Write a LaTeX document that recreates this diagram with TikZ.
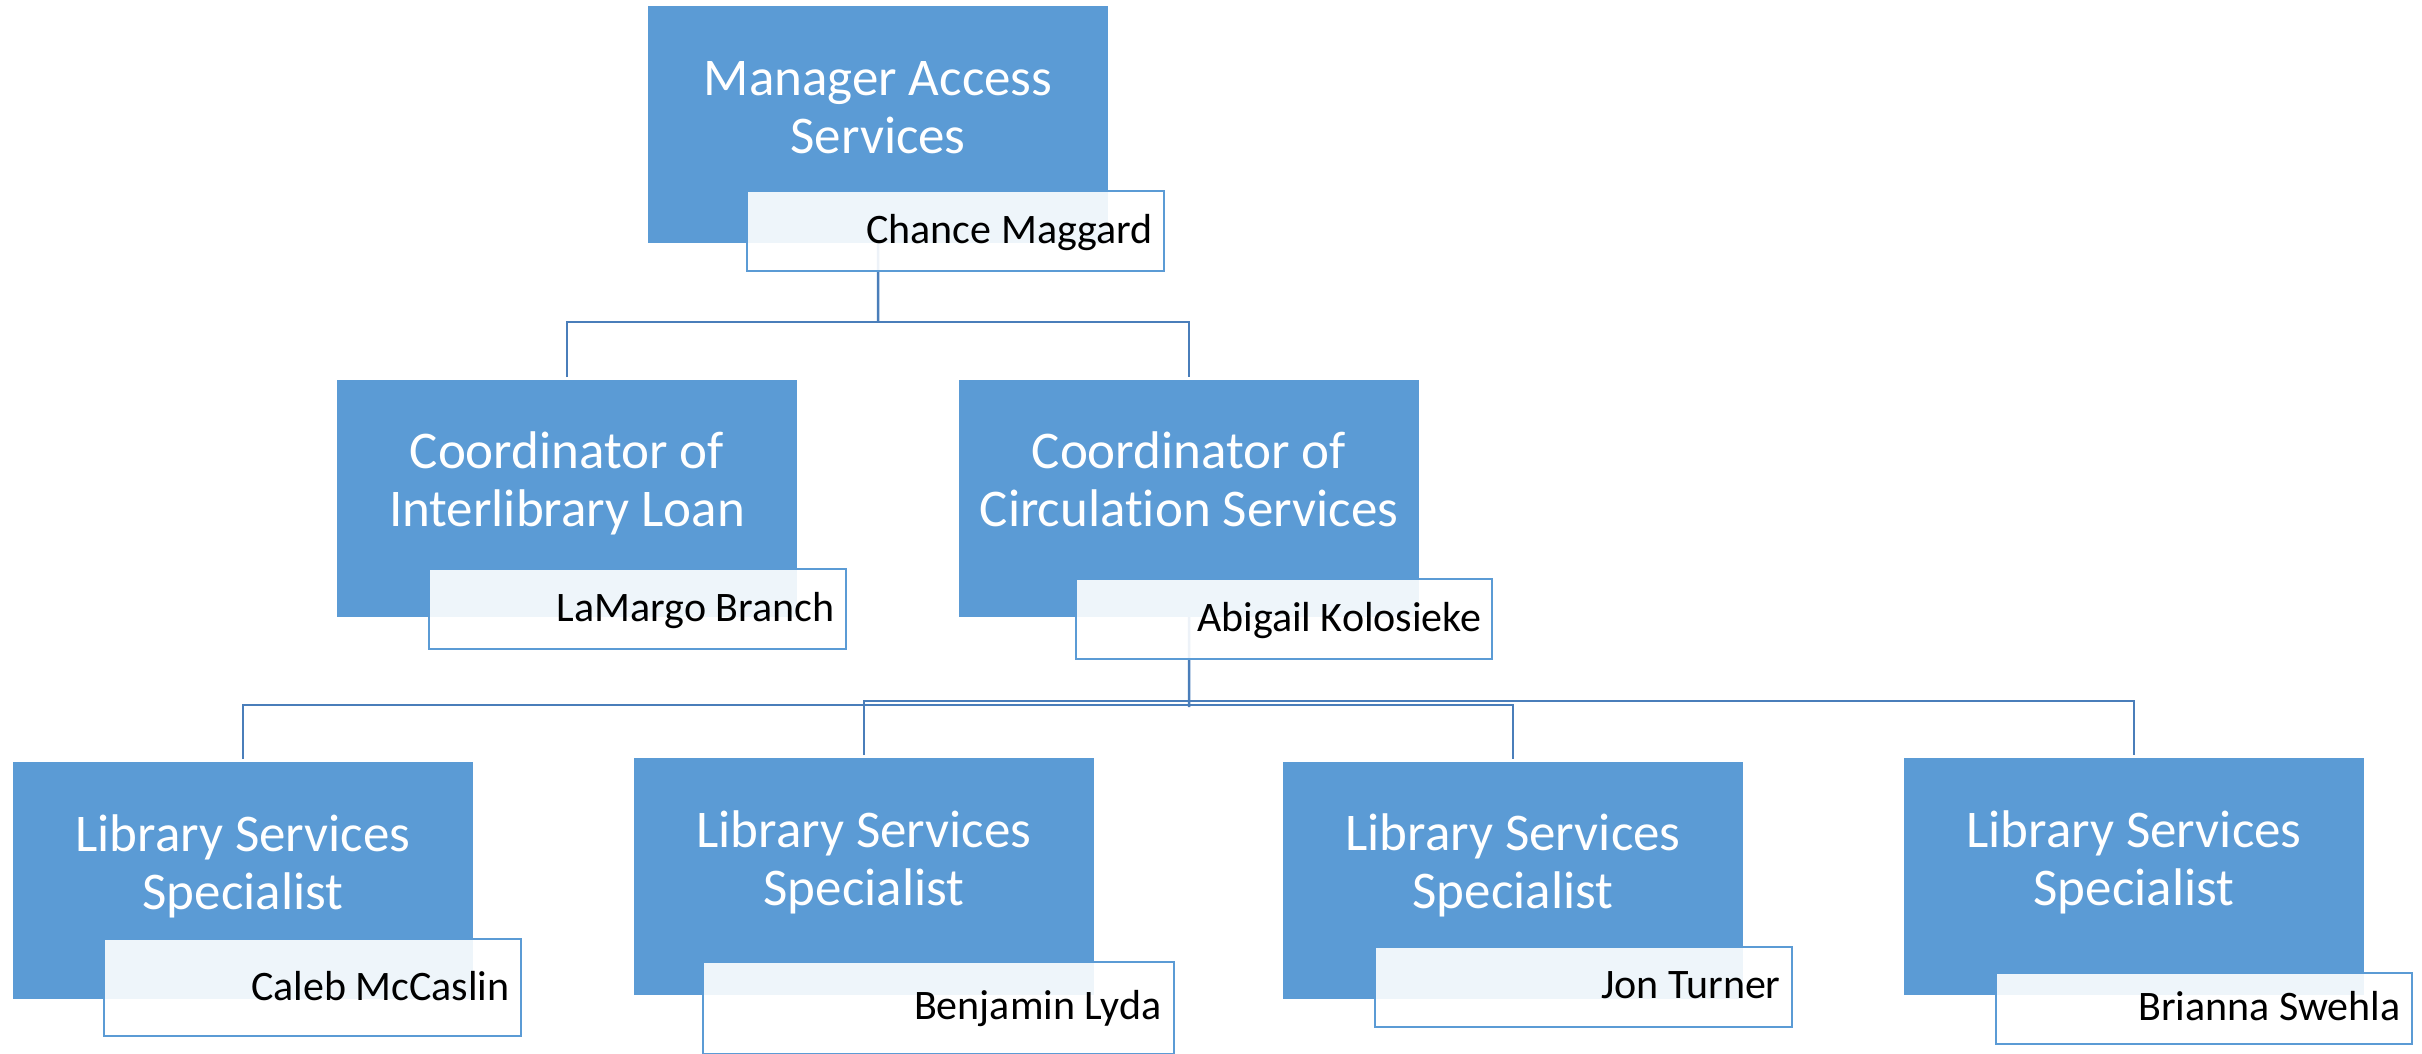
\documentclass[tikz,border=0pt]{standalone}
\usepackage{fontspec}
\setmainfont{Carlito}[Ligatures=NoCommon]
\definecolor{boxblue}{HTML}{5B9BD5}
\definecolor{connblue}{HTML}{4A7EBA}
\definecolor{nameline}{HTML}{5B9BD5}
\tikzset{
  bluebox/.style={fill=boxblue, draw=none, inner sep=0pt, outer sep=0pt, anchor=north west, minimum width=230bp, minimum height=118.5bp},
  titletext/.style={text=white, font=\fontsize{26.5bp}{29bp}\selectfont, anchor=base, inner sep=0pt},
  namebox/.style={draw=nameline, line width=1.3bp, fill=white, fill opacity=0.9, inner sep=0pt, outer sep=0pt, anchor=north west},
  nametext/.style={text=black, font=\fontsize{21bp}{25bp}\selectfont, anchor=base east, inner sep=0pt},
  conn/.style={draw=connblue, line width=1.25bp},
  drop/.style={conn, shorten <=1.5bp, shorten >=1.5bp}
}
\newcommand{\twolines}[2]{\begin{tabular}[t]{@{}c@{}}#1\\#2\end{tabular}}
\begin{document}
\begin{tikzpicture}[x=0.5bp, y=-0.5bp]
\useasboundingbox (0,0) rectangle (2422,1053);
\clip (0,0) rectangle (2422,1053);
% blue boxes
\node[bluebox] (bM) at (648,6) {};
\node[bluebox] (bA) at (337,380) {};
\node[bluebox] (bB) at (959,380) {};
\node[bluebox] (b1) at (13,762) {};
\node[bluebox] (b2) at (634,758) {};
\node[bluebox] (b3) at (1283,762) {};
\node[bluebox] (b4) at (1904,758) {};
% titles
\node[titletext] (tM) at (878,95) {\twolines{Manager Access}{Services}};
\node[titletext] (tA) at (567,468) {\twolines{Coordinator of}{Interlibrary Loan}};
\node[titletext] (tB) at (1189,468) {\twolines{Coordinator of}{Circulation Services}};
\node[titletext] (t1) at (243,851) {\twolines{Library Services}{Specialist}};
\node[titletext] (t2) at (864,847) {\twolines{Library Services}{Specialist}};
\node[titletext] (t3) at (1513,850) {\twolines{Library Services}{Specialist}};
\node[titletext] (t4) at (2134,847) {\twolines{Library Services}{Specialist}};
% connectors
\coordinate (j0) at (878,322);
\draw[conn] (bM.south) -- (j0);
\draw[drop] (bA.north) |- (j0) -| (bB.north);
\coordinate (j1) at (1189,707);
\draw[conn] (bB.south) -- (j1);
\coordinate (jA) at (1189,705);
\draw[drop] (b1.north) |- (jA) -| (b3.north);
\coordinate (jB) at (1189,701);
\draw[drop] (b2.north) |- (jB) -| (b4.north);
% name boxes
\node[namebox, minimum width=208.5bp, minimum height=40bp] (nM) at (747,191) {};
\node[namebox, minimum width=208.5bp, minimum height=40bp] (nA) at (429,569) {};
\node[namebox, minimum width=208bp, minimum height=40bp] (nB) at (1076,579) {};
\node[namebox, minimum width=208.5bp, minimum height=48.5bp] (n1) at (104,939) {};
\node[namebox, minimum width=235.5bp, minimum height=46bp] (n2) at (703,962) {};
\node[namebox, minimum width=208.5bp, minimum height=40bp] (n3) at (1375,947) {};
\node[namebox, minimum width=208bp, minimum height=35.5bp] (n4) at (1996,973) {};
% names
\node[nametext] (sM) at (1153,243) {Chance Maggard};
\node[nametext] (sA) at (835,621) {LaMargo Branch};
\node[nametext] (sB) at (1482,631) {Abigail Kolosieke};
\node[nametext] (s1) at (510,1000) {Caleb McCaslin};
\node[nametext] (s2) at (1162,1019) {Benjamin Lyda};
\node[nametext] (s3) at (1781,998) {Jon Turner};
\node[nametext] (s4) at (2401,1020) {Brianna Swehla};
\end{tikzpicture}
\end{document}
